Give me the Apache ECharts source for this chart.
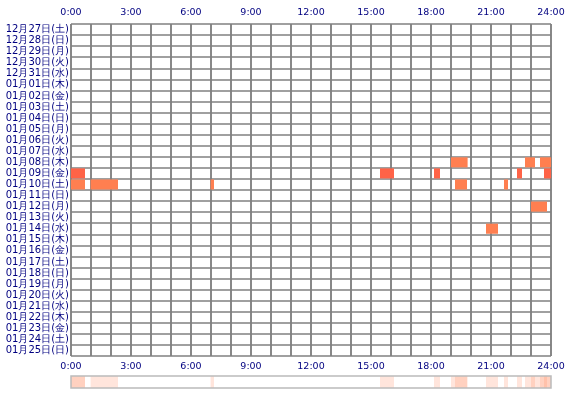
<!DOCTYPE html><html><head><meta charset="utf-8"><script src="https://cdn.jsdelivr.net/npm/echarts@6/dist/echarts.min.js"></script></head><body style="margin:0"><div id="c" style="width:570px;height:400px"></div><script>
const dates=['12月27日(土)','12月28日(日)','12月29日(月)','12月30日(火)','12月31日(水)','01月01日(木)','01月02日(金)','01月03日(土)','01月04日(日)','01月05日(月)','01月06日(火)','01月07日(水)','01月08日(木)','01月09日(金)','01月10日(土)','01月11日(日)','01月12日(月)','01月13日(火)','01月14日(水)','01月15日(木)','01月16日(金)','01月17日(土)','01月18日(日)','01月19日(月)','01月20日(火)','01月21日(水)','01月22日(木)','01月23日(金)','01月24日(土)','01月25日(日)'];
const hourTicks=['0:00','3:00','6:00','9:00','12:00','15:00','18:00','21:00','24:00'];
// [start hour, end hour, row index, kind]
const intervals=[
[19.0,19.83,12,1],[22.7,23.2,12,1],[23.45,24,12,1],
[0,0.7,13,0],[15.45,16.15,13,0],[18.15,18.45,13,0],[22.3,22.55,13,0],[23.65,24,13,0],
[0,0.7,14,1],[0.98,2.35,14,1],[6.98,7.15,14,1],[19.2,19.8,14,1],[21.65,21.85,14,1],
[23.0,23.8,16,1],
[20.75,21.35,18,1]];
const colors=['#ff6347','#ff7f50'];
const fc='#000080',gc='#808080';
function xAx(pos,gi,show){return {type:'value',gridIndex:gi,position:pos,min:0,max:24,interval:1,
 axisLine:{show:false},axisTick:{show:false},
 splitLine:{show:gi===0,lineStyle:{color:gc,width:1.5}},
 axisLabel:{show:show,color:fc,fontSize:9.5,fontFamily:'DejaVu Sans',margin:6,formatter:v=>v%3===0?hourTicks[v/3]:''}};}
const ch=echarts.init(document.getElementById('c'));
ch.setOption({animation:false,
grid:[{left:71,right:19,top:24,height:332,outerBoundsMode:'none',containLabel:false},{left:71,right:19,top:376,height:12,outerBoundsMode:'none',containLabel:false}],
xAxis:[xAx('top',0,true),xAx('bottom',0,true),xAx('bottom',1,false)],
yAxis:[{type:'category',gridIndex:0,data:dates,inverse:true,axisTick:{show:false},axisLine:{show:false},
 splitLine:{show:true,lineStyle:{color:gc,width:1.5}},
 axisLabel:{color:fc,fontSize:10,fontFamily:'DejaVu Sans',margin:2,interval:0}},
 {type:'category',gridIndex:1,data:['a'],axisLabel:{show:false},axisTick:{show:false},axisLine:{show:false}}],
series:[{type:'custom',xAxisIndex:0,yAxisIndex:0,data:intervals,encode:{x:[0,1],y:2},
 renderItem:(p,api)=>{const a=api.coord([api.value(0),api.value(2)]),b=api.coord([api.value(1),api.value(2)]);const h=api.size([0,1])[1];
 return {type:'rect',shape:{x:a[0],y:a[1]-h/2+0.5,width:b[0]-a[0],height:h-1},style:{fill:colors[api.value(3)]}};}},
{type:'custom',xAxisIndex:2,yAxisIndex:1,data:intervals,encode:{x:[0,1]},
 renderItem:(p,api)=>{const a=api.coord([api.value(0),0]),b=api.coord([api.value(1),0]);const h=api.size([0,1])[1];
 return {type:'rect',shape:{x:a[0],y:a[1]-h/2,width:b[0]-a[0],height:h},style:{fill:'#ff7f50',opacity:0.2}};}},
{type:'custom',xAxisIndex:2,yAxisIndex:1,data:[[0,24]],
 renderItem:(p,api)=>{const a=api.coord([0,0]),b=api.coord([24,0]);const h=api.size([0,1])[1];
 return {type:'rect',shape:{x:a[0],y:a[1]-h/2,width:b[0]-a[0],height:h},style:{fill:'none',stroke:'#bbbbbb',lineWidth:1.5}};}}]
});
</script></body></html>
